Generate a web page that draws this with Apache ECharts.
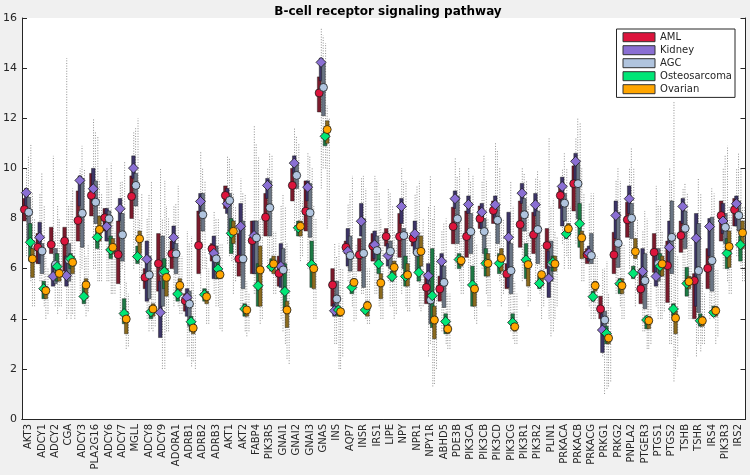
<!DOCTYPE html>
<html>
<head>
<meta charset="utf-8">
<script src="https://cdn.jsdelivr.net/npm/echarts@6/dist/echarts.min.js"></script>
<style>
html,body{margin:0;padding:0;background:#f0f0f0;}
#chart{width:750px;height:475px;}
</style>
</head>
<body>
<div id="chart"></div>
<script>
const genes = ['AKT3','ADCY1','ADCY2','CGA','ADCY3','PLA2G16','ADCY6','ADCY7','MGLL','ADCY8','ADCY9','ADORA1','ADRB1','ADRB2','ADRB3','AKT1','AKT2','FABP4','PIK3R5','GNAI1','GNAI2','GNAI3','GNAS','INS','AQP7','INSR','IRS1','LIPE','NPY','NPR1','NPY1R','ABHD5','PDE3B','PIK3CA','PIK3CB','PIK3CD','PIK3CG','PIK3R1','PIK3R2','PLIN1','PRKACA','PRKACB','PRKACG','PRKG1','PRKG2','PNPLA2','PTGER3','PTGS1','PTGS2','TSHB','TSHR','IRS4','PIK3R3','IRS2'];
const groupNames = ['AML','Kidney','AGC','Osteosarcoma','Ovarian'];
const yTicks = [0,2,4,6,8,10,12,14,16];

// AML
const amlMed = [8.36,6.85,6.96,7.1,7.92,8.92,8.03,6.56,8.88,5.65,6.2,6.59,4.72,6.92,6.79,8.92,6.39,7.12,8.05,5.81,9.32,8.29,13.01,5.35,6.85,6.55,6.9,7.28,7.28,7.21,5.25,5.19,7.68,7.28,7.99,8.32,5.79,7.76,7.35,6.92,8.92,9.39,6.56,4.39,6.55,7.95,5.19,6.65,6.12,7.32,5.52,6.01,8.12,8.35];
const amlQ1 = [7.9,6.2,6.6,5.9,7.1,8.1,7.5,5.4,8.0,5.2,5.1,6.0,4.3,5.8,6.3,8.4,5.7,5.8,7.3,5.3,8.7,7.5,12.25,4.5,6.6,5.9,6.3,6.9,6.45,6.9,4.6,4.7,6.99,6.45,7.6,7.8,5.2,6.85,6.6,6.0,8.4,8.3,6.2,4.0,5.8,7.25,4.6,5.85,4.65,6.65,4.0,5.2,7.1,7.7];
const amlQ3 = [8.8,7.4,7.65,7.65,9.1,9.8,8.4,7.9,9.7,6.0,7.4,7.1,5.0,8.3,7.0,9.3,7.4,7.9,9.0,6.5,10.0,9.5,13.65,6.0,7.1,7.2,7.4,7.6,8.2,7.4,5.8,5.7,8.45,8.3,8.5,8.7,6.2,8.7,8.25,7.6,9.3,10.1,6.8,4.9,7.45,8.65,6.0,7.4,7.1,7.9,5.8,6.8,8.7,8.8];
const amlLo = [6.5,5.5,5.5,4,5,6,5.5,4,6,4,3.5,4.5,2.5,5,5,7,4.5,5,6,4,7.5,6,9.2,3,5.5,5,5,5.5,5,6,2.5,3.5,6,5.5,6,6.5,4,5.5,5.5,4,7,7,4.5,2.5,5,6,3.5,4.5,3,5.5,2.5,4,6,6.5];
const amlHi = [10,9,10.5,14.4,10,12,10,9.5,11.5,8,10,8.5,7.5,10.7,8.3,10.5,9.6,11.7,10,8.5,11.6,10.6,15.6,7,8.6,9.6,9.7,9.2,10,9,8.5,7.5,10.4,10,9.5,11,8,10,9.6,11.2,10,11.2,8.6,6,9.5,10,7.5,9.3,10,9.2,8,8,10,10];

// Kidney
const kidMed = [9.03,7.25,5.69,5.72,9.52,9.19,7.68,8.39,10.01,6.37,4.25,7.24,4.85,8.68,6.61,8.59,7.69,7.32,9.32,6.09,10.21,9.25,14.23,4.32,6.69,7.89,6.95,6.52,8.48,7.39,5.72,6.29,8.79,8.56,8.25,8.55,7.25,9.01,8.55,5.61,9.28,10.28,6.61,3.55,8.12,8.79,5.89,5.69,6.85,8.48,7.21,7.68,7.9,8.59];
const kidQ1 = [8.3,6.2,5.3,5.3,8.5,8.6,7.1,7.9,9.6,4.7,3.25,6.8,4.1,8.2,5.6,8.2,6.5,5.8,8.8,5.25,9.8,8.7,13.5,4.1,6.1,7.3,6.4,6.1,7.8,6.6,5.2,5.2,8.4,8.2,7.6,8.0,5.25,8.6,8.1,4.85,7.7,9.5,6.3,2.65,7.2,8.2,5.2,5.3,6.0,7.8,4.5,6.5,7.4,7.7];
const kidQ3 = [9.2,7.85,6.2,6.5,9.7,10.0,8.4,8.8,10.5,7.1,5.5,7.7,5.2,9.0,7.3,9.2,8.6,7.9,9.6,7.0,10.5,9.5,14.4,4.6,7.6,8.6,7.5,7.0,8.8,7.9,6.2,6.6,9.1,8.9,8.6,8.9,8.25,9.4,9.0,6.7,9.65,10.6,6.9,4.2,8.7,9.3,6.8,6.6,7.9,8.8,8.2,8.0,8.6,8.9];
const kidLo = [7,5.5,4.5,4.2,6,6,5.5,6,7,3.5,2,5,2.5,6,4.5,6.5,4.5,5,6.5,3.5,8,7,10,3,5,5,5,4.5,5.5,5.5,3,3.5,6.5,6,6,6.5,3.5,6,6,3.3,6,8,4,1,5.5,6.5,3.5,4,3,5.5,3,4.5,6,6.5];
const kidHi = [10.5,9.8,7.5,8.5,10.9,11.5,9.5,9.5,11.6,9,8,8.6,7,10,8,10.4,9,11,10.6,9,11.3,10.5,15.3,6.5,9,9.7,9.5,9,9.5,9.3,9.7,7.8,9.7,9.5,10.5,10.7,9.5,9.8,9.9,8.5,10.6,12,9,6,10,10.8,8.3,8.5,9.5,9.4,9.6,9.2,10.5,10.6];

// AGC
const agcMed = [8.25,6.7,6.16,6.35,8.21,8.65,7.99,7.35,9.32,5.75,5.85,6.59,4.59,8.15,6.39,8.72,6.39,7.23,8.43,5.95,9.72,8.23,13.23,4.79,6.52,6.61,6.72,6.69,7.32,6.65,4.75,5.45,7.99,7.48,7.48,7.93,5.92,8.15,7.56,6.21,8.61,9.39,6.52,3.95,7.01,8.01,5.52,6.2,7.25,7.61,5.92,6.32,7.65,8.12];
const agcQ1 = [7.1,5.8,5.4,5.5,6.85,7.8,7.2,6.3,8.5,4.8,4.5,5.8,3.7,7.5,5.6,7.5,5.2,5.8,7.3,5.0,9.2,7.25,12.1,4.2,5.9,5.25,6.2,6.0,6.0,5.8,3.8,4.45,7.0,6.6,6.6,7.0,5.0,7.5,6.2,5.5,7.9,8.0,6.2,3.3,6.05,7.2,4.4,5.5,5.8,6.8,4.25,5.1,7.0,7.5];
const agcQ3 = [8.85,7.0,6.8,7.0,9.6,9.5,8.3,8.2,9.8,6.5,7.3,7.0,5.1,9.0,6.9,9.0,7.9,7.9,9.5,6.8,10.2,9.4,14.2,5.5,7.3,8.0,7.3,7.1,7.6,7.3,5.5,6.1,8.9,8.2,8.0,8.5,7.0,8.8,8.3,7.1,9.0,10.2,7.4,4.3,8.25,8.6,6.6,6.8,8.7,8.3,7.8,8.05,8.2,8.7];
const agcLo = [5.5,4.5,4.2,4,4.5,5.5,5,4.5,7,3.6,2,4.5,2.1,6,4.5,6.3,3.5,5,6,3,7.5,5.5,10,2,4.5,4,4.5,4.5,4.5,4.5,1.3,3,5.5,5,5,5.5,3.2,5.5,5,3.5,6.5,7.5,4,1.2,4.5,6,2.8,4,1.5,5,2.7,4,5.5,6];
const agcHi = [11,8.5,8.5,8.7,10,11.3,10.2,10.3,12,9.5,9.5,9.3,7.3,9.5,8,10,9,10.5,10.5,8.5,11,10,15,7,9.7,9.2,9,8.5,9.5,9.5,8,8,10,9.7,9.5,10,8.5,9.5,9.5,8.8,10,11.8,9,6.3,9.5,10,8,8.5,12.7,9,9,9,10.9,10];

// Osteosarcoma
const ostMed = [7.05,5.2,6.08,6.39,4.89,7.25,6.75,4.21,6.48,4.28,5.88,4.99,3.88,4.96,5.99,7.41,4.39,5.32,6.08,5.09,7.63,6.16,11.28,4.35,5.25,4.35,6.19,5.68,5.69,5.85,4.92,3.89,6.36,5.35,6.21,6.21,3.85,6.35,5.41,6.25,7.39,7.79,4.88,3.41,5.4,5.81,3.95,6.09,4.39,5.41,3.92,4.25,6.61,6.95];
const ostQ1 = [6.3,4.8,5.5,6.0,4.6,6.8,6.4,3.8,6.2,4.0,5.2,4.7,3.5,4.7,5.6,6.6,4.1,4.5,5.9,4.3,7.3,5.25,10.9,4.1,5.0,4.2,5.8,5.5,5.3,5.5,3.65,3.4,6.0,4.5,5.7,5.8,3.6,5.6,5.2,5.9,7.2,6.85,4.7,3.0,5.0,5.6,3.6,5.7,4.1,4.9,3.7,4.1,6.0,6.3];
const ostQ3 = [7.8,5.5,6.6,6.6,5.3,7.6,7.3,4.8,6.9,4.5,6.4,5.3,4.1,5.2,6.3,8.0,4.6,6.2,6.4,6.2,7.9,7.1,11.5,4.5,5.5,4.5,6.8,5.9,6.5,6.5,6.8,4.2,6.6,6.1,6.8,6.6,4.2,7.0,5.7,6.5,7.6,8.6,5.1,3.7,5.6,6.1,4.1,6.6,4.6,6.05,4.2,4.5,7.2,7.3];
const ostLo = [4.5,4,4.5,4.2,4.1,5.5,5,2.8,5,3.5,3.5,4.2,2.3,3.8,3.6,5,3.3,3.8,5,2.4,6.3,4,7.6,2,3.9,3.8,4,4,4.3,4.3,1.4,2.8,5,4,4.5,4.5,3,4.5,4,4,6,5.5,4,1.3,4,4.5,2.8,4,2,4,3,3,5,5.5];
const ostHi = [9,6.5,8,9.2,6.5,9.5,8,5.5,8,6,8.5,6.5,5.5,6.5,7,9,5.5,8,7.5,7,9.2,8.5,12.5,6,6.5,6,8,7.5,7.5,7.5,8.5,5,8,7.5,8,8,5.5,8.5,7,7.5,8.5,10,6.5,5,7,7.5,5,7.5,7.5,7.5,5.5,6,8.5,8.5];

// Ovarian
const ovaMed = [6.39,5.12,5.81,6.25,5.35,7.56,6.85,3.99,7.19,4.39,5.65,5.33,3.63,4.88,5.76,7.49,4.35,5.95,6.19,4.35,7.69,6.0,11.55,4.28,5.45,4.52,5.43,6.05,5.75,6.69,3.95,3.59,6.32,5.19,6.21,6.41,3.68,6.16,5.76,6.19,7.59,7.23,5.32,3.23,5.32,6.68,3.92,6.19,4.03,5.48,3.92,4.32,6.88,7.43];
const ovaQ1 = [5.65,4.8,5.5,5.8,4.8,7.1,6.6,3.4,6.6,4.1,4.9,5.1,3.4,4.6,5.6,7.0,4.1,4.5,5.8,3.65,7.3,5.2,11.0,4.1,5.2,4.1,4.8,5.7,5.3,6.1,3.2,3.4,6.1,4.5,5.7,5.9,3.5,5.3,5.3,5.9,7.3,6.4,5.1,3.0,5.0,6.4,3.6,5.7,3.4,5.2,3.7,4.1,6.05,6.8];
const ovaQ3 = [6.8,5.3,6.0,6.5,5.6,8.1,7.2,4.3,7.5,4.6,6.0,5.6,3.8,5.1,5.9,7.9,4.5,6.9,6.5,4.7,7.9,6.2,11.9,4.4,5.6,4.7,5.8,6.3,6.2,7.3,4.5,3.8,6.5,5.4,6.6,6.8,3.9,6.4,5.9,6.5,7.8,7.5,5.5,3.4,5.6,7.2,4.1,6.5,4.3,5.7,4.1,4.5,7.5,7.9];
const ovaLo = [4.5,4.2,4.5,4,4.3,5.5,5,2.9,5.5,3.7,3.5,4.2,2,3.8,3.5,5.5,3.5,4,5,2.2,6.5,4,8,2.5,4,3.8,4,4.2,4.3,4.5,2,2.8,5,3.8,4.5,5,3,4.7,4.5,4.5,6,5.5,4.2,1.5,4,5,3,4.3,2.5,4,3,3.3,5,5.5];
const ovaHi = [8,6,7,8,7,9,7.5,5,9,6,8,6.5,5,6,7,8.5,5,8,7.5,6,8.7,8,12,6,7,6,7.5,7,7,8,6.5,5,7.5,7,7.5,8,5,7.5,7,7.3,8.5,9,6.5,4.5,7,8,5.5,7,6.5,7,5,6,8.5,8.5];

const groups = [
  {name:'AML', med:amlMed, q1:amlQ1, q3:amlQ3, lo:amlLo, hi:amlHi},
  {name:'Kidney', med:kidMed, q1:kidQ1, q3:kidQ3, lo:kidLo, hi:kidHi},
  {name:'AGC', med:agcMed, q1:agcQ1, q3:agcQ3, lo:agcLo, hi:agcHi},
  {name:'Osteosarcoma', med:ostMed, q1:ostQ1, q3:ostQ3, lo:ostLo, hi:ostHi},
  {name:'Ovarian', med:ovaMed, q1:ovaQ1, q3:ovaQ3, lo:ovaLo, hi:ovaHi}
];

// styling (not data)
const markerColors = ['#dc143c','#8a6fd3','#b0c4de','#00e676','#ffa500'];
const barColors = ['#7a1b2c','#3c3466','#6a7584','#1d7a45','#8a6a1e'];
const symbols = ['circle','diamond','circle','diamond','circle'];
const symbolSizes = [8,10,8,10,8];
const offsets = [-0.32,-0.18,0,0.12,0.28];
const dotShift = 0.16;

let badLen = false;
groups.forEach(g => ['med','q1','q3','lo','hi'].forEach(k => { if (g[k].length !== genes.length) badLen = true; }));

const chart = echarts.init(document.getElementById('chart'), null, {renderer:'canvas'});
const series = [];

groups.forEach((g, gi) => {
  series.push({
    type:'custom', name:g.name+' pts', xAxisIndex:2, yAxisIndex:0, z:1,
    silent:true,
    data: genes.map((_, i) => [i + 1 + offsets[gi] + dotShift, g.lo[i], g.hi[i]]),
    encode:{x:0, y:[1,2]},
    renderItem:(params, api) => {
      const x = api.value(0);
      const p1 = api.coord([x, api.value(1)]);
      const p2 = api.coord([x, api.value(2)]);
      return {type:'line', shape:{x1:p1[0], y1:p1[1], x2:p2[0], y2:p2[1]},
        style:{stroke:'#8f8f8f', lineWidth:1, lineDash:[1,1.6]}};
    }
  });
});
groups.forEach((g, gi) => {
  series.push({
    type:'custom', name:g.name+' iqr', xAxisIndex:2, yAxisIndex:0, z:2,
    silent:true,
    data: genes.map((_, i) => [i + 1 + offsets[gi], g.q1[i], g.q3[i]]),
    encode:{x:0, y:[1,2]},
    renderItem:(params, api) => {
      const x = api.value(0);
      const p1 = api.coord([x, api.value(1)]);
      const p2 = api.coord([x, api.value(2)]);
      return {type:'rect', shape:{x:p1[0]-1.8, y:p2[1], width:3.6, height:p1[1]-p2[1]},
        style:{fill:barColors[gi], stroke:'#111', lineWidth:0.4}};
    }
  });
});
groups.forEach((g, gi) => {
  series.push({
    type:'scatter', name:g.name, xAxisIndex:2, yAxisIndex:0, z:3,
    symbol:symbols[gi], symbolSize:symbolSizes[gi],
    itemStyle:{color:markerColors[gi], borderColor:'#1a1a1a', borderWidth:0.8, opacity:1},
    data: genes.map((_, i) => [i + 1 + offsets[gi], g.med[i]])
  });
});

const axisCol = '#262626';
chart.setOption({
  animation:false,
  backgroundColor:'#f0f0f0',
  title:{
    text: badLen ? 'DATA LENGTH ERROR' : 'B-cell receptor signaling pathway',
    left:383, textAlign:'center', top:1,
    textStyle:{fontFamily:'DejaVu Sans', fontSize:12, fontWeight:'bold', color:'#000'}
  },
  legend:{
    data:groupNames, orient:'vertical', right:15, top:29,
    icon:'rect', itemWidth:32, itemHeight:9, itemGap:0.6,
    backgroundColor:'#fff', borderColor:axisCol, borderWidth:1,
    padding:[2,3,2,6],
    itemStyle:{borderColor:'#333', borderWidth:1},
    textStyle:{fontFamily:'DejaVu Sans', fontSize:10, lineHeight:12.4, color:axisCol}
  },
  grid:{left:20, right:4.5, top:18, bottom:56, show:true, backgroundColor:'#fff', borderWidth:0},
  xAxis:[
    {type:'category', data:genes, position:'bottom', boundaryGap:true,
     axisLine:{lineStyle:{color:axisCol, width:1}},
     axisTick:{inside:true, alignWithLabel:true, length:5, lineStyle:{color:axisCol}},
     axisLabel:{rotate:90, interval:0, fontFamily:'DejaVu Sans', fontSize:10, color:axisCol, margin:5},
     splitLine:{show:false}},
    {type:'category', data:genes, position:'top', boundaryGap:true,
     axisLine:{lineStyle:{color:axisCol, width:1}},
     axisTick:{inside:true, alignWithLabel:true, length:5, lineStyle:{color:axisCol}},
     axisLabel:{show:false}, splitLine:{show:false}},
    {type:'value', min:0.5, max:54.5, show:false, splitLine:{show:false}}
  ],
  yAxis:[
    {type:'value', min:0, max:16, interval:2, position:'left',
     axisLine:{show:true, lineStyle:{color:axisCol, width:1}},
     axisTick:{show:true, inside:true, length:5, lineStyle:{color:axisCol}},
     axisLabel:{fontFamily:'DejaVu Sans', fontSize:11, color:axisCol, margin:5,
       formatter:v => yTicks.includes(v) ? String(v) : ''},
     splitLine:{show:false}},
    {type:'value', min:0, max:16, interval:2, position:'right',
     axisLine:{show:true, lineStyle:{color:axisCol, width:1}},
     axisTick:{show:true, inside:true, length:5, lineStyle:{color:axisCol}},
     axisLabel:{show:false}, splitLine:{show:false}}
  ],
  series: series
});
</script>
</body>
</html>
